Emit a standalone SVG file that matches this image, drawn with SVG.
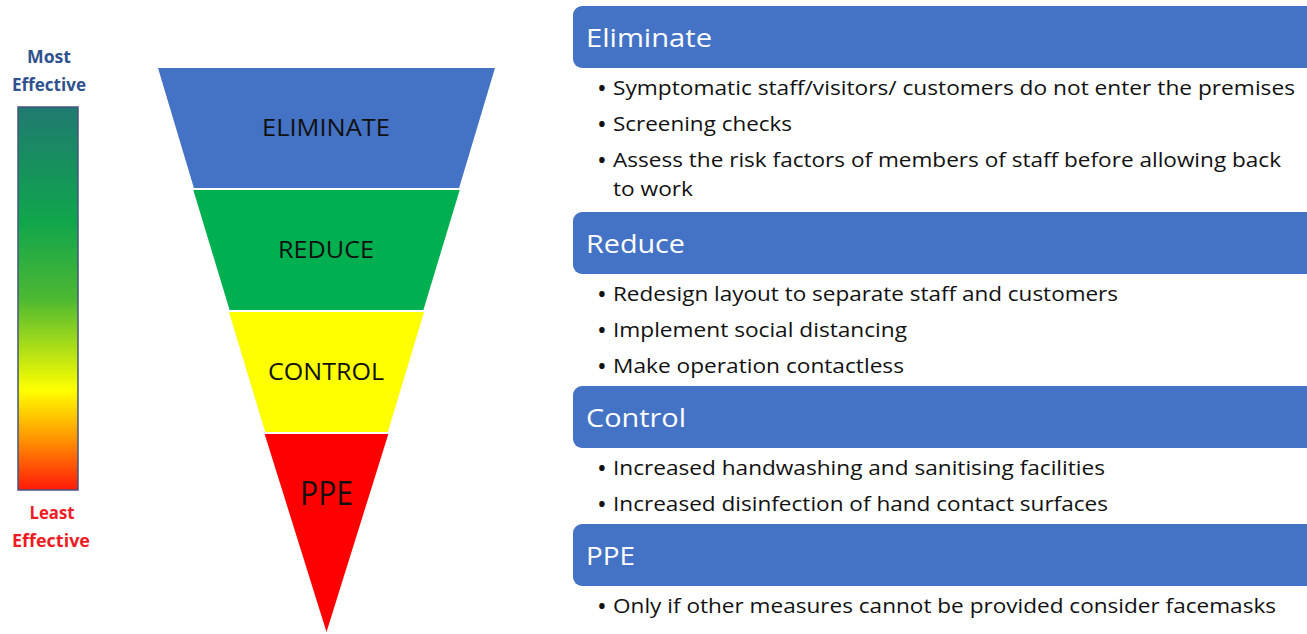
<svg xmlns="http://www.w3.org/2000/svg" width="1307" height="634" viewBox="0 0 1307 634">
  <defs>
    <linearGradient id="effectiveness" x1="0" y1="0" x2="0" y2="1">
      <stop offset="0" stop-color="#1f7a70"/>
      <stop offset="0.3" stop-color="#10a64c"/>
      <stop offset="0.5" stop-color="#4cb832"/>
      <stop offset="0.74" stop-color="#ffff00"/>
      <stop offset="0.86" stop-color="#ff9a00"/>
      <stop offset="1" stop-color="#ff1a0a"/>
    </linearGradient>
    <style>
      .scale { font-family: "Open Sans", "Noto Sans", sans-serif; font-weight: 700; font-size: 17px; text-anchor: middle; }
      .most { fill: #2f528f; }
      .least { fill: #ee1c25; }
      .tier { font-family: "Open Sans", "Noto Sans", sans-serif; font-size: 23px; fill: #111; text-anchor: middle; }
      .tier-big { font-size: 33px; }
      .head-box { fill: #4472c4; }
      .head { font-family: "Open Sans", "Noto Sans", sans-serif; font-size: 26px; fill: #fff; }
      .item { font-family: "Open Sans", "Noto Sans", sans-serif; font-size: 20px; fill: #111; }
      .dot { font-family: "Open Sans", "Noto Sans", sans-serif; font-size: 26px; fill: #111; }
    </style>
  </defs>
  <rect width="1307" height="634" fill="#fff"/>

  <!-- effectiveness scale -->
  <g id="scale">
    <text class="scale most" x="49" y="63" textLength="44" lengthAdjust="spacingAndGlyphs">Most</text>
    <text class="scale most" x="49" y="91" textLength="74" lengthAdjust="spacingAndGlyphs">Effective</text>
    <rect x="18" y="107" width="60" height="383" fill="url(#effectiveness)" stroke="#44557f" stroke-width="1.5"/>
    <text class="scale least" x="52" y="519" textLength="45" lengthAdjust="spacingAndGlyphs">Least</text>
    <text class="scale least" x="51" y="547" textLength="78" lengthAdjust="spacingAndGlyphs">Effective</text>
  </g>

  <!-- inverted hierarchy triangle -->
  <g id="tier-eliminate">
    <polygon points="158,68 495,68 459.1,188 193.9,188" fill="#4472c4"/>
    <text class="tier" x="326" y="136" textLength="128" lengthAdjust="spacingAndGlyphs">ELIMINATE</text>
  </g>
  <g id="tier-reduce">
    <polygon points="193.3,190 459.7,190 423.4,310 229.6,310" fill="#00b050"/>
    <text class="tier" x="326" y="258" textLength="96" lengthAdjust="spacingAndGlyphs">REDUCE</text>
  </g>
  <g id="tier-control">
    <polygon points="229.0,312 424.0,312 387.8,432 265.2,432" fill="#ffff00"/>
    <text class="tier" x="326" y="380" textLength="116" lengthAdjust="spacingAndGlyphs">CONTROL</text>
  </g>
  <g id="tier-ppe">
    <polygon points="264.6,434 388.4,434 326.5,632" fill="#ff0000"/>
    <text class="tier tier-big" x="326.5" y="505" textLength="53" lengthAdjust="spacingAndGlyphs">PPE</text>
  </g>

  <!-- measures: Eliminate -->
  <g id="measures-eliminate">
    <rect class="head-box" x="573" y="6" width="760" height="62" rx="9"/>
    <text class="head" x="586" y="47" textLength="126" lengthAdjust="spacingAndGlyphs">Eliminate</text>
    <text class="dot" x="597" y="97">•</text>
    <text class="item" x="613" y="95" textLength="682" lengthAdjust="spacingAndGlyphs">Symptomatic staff/visitors/ customers do not enter the premises</text>
    <text class="dot" x="597" y="133">•</text>
    <text class="item" x="613" y="131" textLength="179" lengthAdjust="spacingAndGlyphs">Screening checks</text>
    <text class="dot" x="597" y="169">•</text>
    <text class="item" x="613" y="167" textLength="668" lengthAdjust="spacingAndGlyphs">Assess the risk factors of members of staff before allowing back</text>
    <text class="item" x="613" y="196" textLength="80" lengthAdjust="spacingAndGlyphs">to work</text>
  </g>

  <!-- measures: Reduce -->
  <g id="measures-reduce">
    <rect class="head-box" x="573" y="212" width="760" height="62" rx="9"/>
    <text class="head" x="586" y="253" textLength="99" lengthAdjust="spacingAndGlyphs">Reduce</text>
    <text class="dot" x="597" y="303">•</text>
    <text class="item" x="613" y="301" textLength="505" lengthAdjust="spacingAndGlyphs">Redesign layout to separate staff and customers</text>
    <text class="dot" x="597" y="339">•</text>
    <text class="item" x="613" y="337" textLength="294" lengthAdjust="spacingAndGlyphs">Implement social distancing</text>
    <text class="dot" x="597" y="375">•</text>
    <text class="item" x="613" y="373" textLength="291" lengthAdjust="spacingAndGlyphs">Make operation contactless</text>
  </g>

  <!-- measures: Control -->
  <g id="measures-control">
    <rect class="head-box" x="573" y="386" width="760" height="62" rx="9"/>
    <text class="head" x="586" y="427" textLength="100" lengthAdjust="spacingAndGlyphs">Control</text>
    <text class="dot" x="597" y="477">•</text>
    <text class="item" x="613" y="475" textLength="492" lengthAdjust="spacingAndGlyphs">Increased handwashing and sanitising facilities</text>
    <text class="dot" x="597" y="513">•</text>
    <text class="item" x="613" y="511" textLength="495" lengthAdjust="spacingAndGlyphs">Increased disinfection of hand contact surfaces</text>
  </g>

  <!-- measures: PPE -->
  <g id="measures-ppe">
    <rect class="head-box" x="573" y="524" width="760" height="62" rx="9"/>
    <text class="head" x="586" y="565" textLength="49" lengthAdjust="spacingAndGlyphs">PPE</text>
    <text class="dot" x="597" y="615">•</text>
    <text class="item" x="613" y="613" textLength="663" lengthAdjust="spacingAndGlyphs">Only if other measures cannot be provided consider facemasks</text>
  </g>
</svg>
